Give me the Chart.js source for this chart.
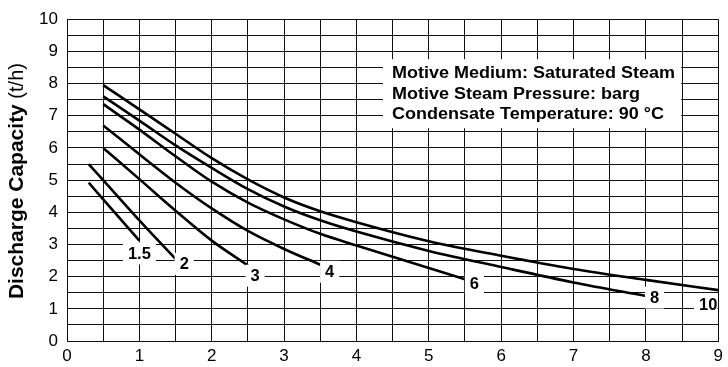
<!DOCTYPE html>
<html>
<head>
<meta charset="utf-8">
<script src="https://cdn.jsdelivr.net/npm/chart.js@4/dist/chart.umd.min.js"></script>
<style>
  html, body { margin: 0; padding: 0; background: #fff; }
  #wrap { width: 728px; height: 367px; position: relative; }
</style>
</head>
<body>
<div id="wrap"><canvas id="chart"></canvas></div>
<script>
const FONT = "'Liberation Sans', Arial, Helvetica, sans-serif";

// motive steam pressure (barg) of each curve
const pressures = ["1.5", "2", "3", "4", "6", "8", "10"];

// points (x = 0..9 axis, y = discharge capacity t/h)
const x15 = [0.3, 0.5, 1.0];
const y15 = [4.92, 4.4, 3.12];
const x2 = [0.3, 0.5, 1.0, 1.5];
const y2 = [5.5, 5.0, 3.75, 2.55];
const x3 = [0.5, 1.0, 1.5, 2.0, 2.5];
const y3 = [6.0, 5.03, 4.05, 3.12, 2.35];
const x4 = [0.5, 1.0, 1.5, 2.0, 2.5, 3.0, 3.5];
const y4 = [6.7, 5.8, 4.92, 4.12, 3.42, 2.86, 2.37];
const x6 = [0.5, 1.0, 1.5, 2.0, 2.5, 3.0, 3.5, 4.0, 4.5, 5.0, 5.5];
const y6 = [7.36, 6.57, 5.74, 4.95, 4.3, 3.78, 3.33, 2.97, 2.62, 2.27, 1.92];
const x8 = [0.5, 1.0, 1.5, 2.0, 2.5, 3.0, 3.5, 4.0, 5.0, 6.0, 7.0, 8.0];
const y8 = [7.6, 6.85, 6.08, 5.38, 4.72, 4.18, 3.75, 3.4, 2.8, 2.3, 1.82, 1.4];
const x10 = [0.5, 1.0, 1.5, 2.0, 2.5, 3.0, 3.5, 4.0, 5.0, 6.0, 7.0, 8.0, 9.0];
const y10 = [7.95, 7.2, 6.44, 5.68, 5.02, 4.46, 4.03, 3.69, 3.1, 2.65, 2.24, 1.9, 1.58];

// where each curve's pressure label sits (data coords)
const labelX = [1.0, 1.62, 2.6, 3.63, 5.63, 8.12, 8.86];
const labelY = [2.72, 2.4, 2.03, 2.15, 1.8, 1.35, 1.14];

const noteLines = [
  "Motive Medium: Saturated Steam",
  "Motive Steam Pressure: barg",
  "Condensate Temperature: 90 \u00b0C",
];

const curveXs = [x15, x2, x3, x4, x6, x8, x10];
const curveYs = [y15, y2, y3, y4, y6, y8, y10];

const datasets = pressures.map((p, i) => ({
  label: p + " barg",
  data: curveXs[i].map((x, j) => ({ x, y: curveYs[i][j] })),
  borderColor: "#000",
  borderWidth: 2.6,
  pointRadius: 0,
  fill: false,
  cubicInterpolationMode: "monotone",
}));

// white-backed labels at the curve ends
const curveLabels = {
  id: "curveLabels",
  afterDatasetsDraw(chart) {
    const { ctx, chartArea: a, scales } = chart;
    ctx.save();
    ctx.beginPath();
    ctx.rect(a.left + 1, a.top + 1, a.right - a.left - 2, a.bottom - a.top - 2);
    ctx.clip();
    ctx.font = "bold 16.5px " + FONT;
    ctx.textAlign = "center";
    ctx.textBaseline = "middle";
    pressures.forEach((p, i) => {
      const px = scales.x.getPixelForValue(labelX[i]);
      const py = scales.y.getPixelForValue(labelY[i]);
      const w = ctx.measureText(p).width;
      ctx.fillStyle = "#fff";
      ctx.fillRect(px - w / 2 - 5, py - 11, w + 10, 22);
      ctx.fillStyle = "#000";
      ctx.fillText(p, px, py + 1);
    });
    ctx.restore();
  },
};

// conditions note box and the mixed-weight y title
const extras = {
  id: "extras",
  afterDraw(chart) {
    const { ctx, chartArea: a, scales } = chart;
    ctx.save();
    const bx = a.left + 316;
    const by = a.top + 40;
    const bw = scales.x.getPixelForValue(8.5) - bx - 1;
    ctx.fillStyle = "#fff";
    ctx.fillRect(bx, by, bw, 69);
    ctx.fillStyle = "#000";
    ctx.textAlign = "left";
    ctx.textBaseline = "alphabetic";
    ctx.font = "bold 18px " + FONT;
    noteLines.forEach((t, i) => {
      ctx.save();
      ctx.translate(a.left + 325, a.top + 59 + i * 20.5);
      ctx.scale(1, 0.9);
      ctx.fillText(t, 0, 0);
      ctx.restore();
    });

    // y title
    const bold = "Discharge Capacity";
    const rest = " (t/h)";
    ctx.font = "bold 21px " + FONT;
    const w1 = ctx.measureText(bold).width;
    ctx.font = "20px " + FONT;
    const w2 = ctx.measureText(rest).width;
    const cy = (a.top + a.bottom) / 2 + 1;
    ctx.translate(23, cy);
    ctx.rotate(-Math.PI / 2);
    const start = -(w1 + w2) / 2;
    ctx.font = "bold 21px " + FONT;
    ctx.fillText(bold, start, 0);
    ctx.font = "20px " + FONT;
    ctx.fillText(rest, start + w1, 0);
    ctx.restore();
  },
};

const tickFont = { family: FONT, size: 17 };
const gridOpts = { color: "#111", lineWidth: 1, drawTicks: false };

new Chart(document.getElementById("chart"), {
  type: "line",
  data: { datasets },
  options: {
    responsive: true,
    maintainAspectRatio: false,
    animation: false,
    layout: { padding: { top: 13, right: 4, left: 0, bottom: 0 } },
    plugins: {
      legend: { display: false },
      tooltip: { enabled: false },
    },
    scales: {
      x: {
        type: "linear",
        min: 0,
        max: 9,
        afterFit: (s) => { s.height = 26; },
        grid: gridOpts,
        border: { color: "#111", width: 1 },
        ticks: {
          stepSize: 0.5,
          autoSkip: false,
          maxRotation: 0,
          padding: 5,
          color: "#000",
          font: tickFont,
          callback: (v) => (Number.isInteger(v) ? v : ""),
        },
      },
      y: {
        type: "linear",
        min: 0,
        max: 10,
        afterFit: (s) => { s.width = 67; },
        grid: gridOpts,
        border: { color: "#111", width: 1 },
        ticks: {
          stepSize: 0.5,
          autoSkip: false,
          padding: 9,
          color: "#000",
          font: tickFont,
          callback: (v) => (Number.isInteger(v) ? v : ""),
        },
      },
    },
  },
  plugins: [curveLabels, extras],
});
</script>
</body>
</html>
